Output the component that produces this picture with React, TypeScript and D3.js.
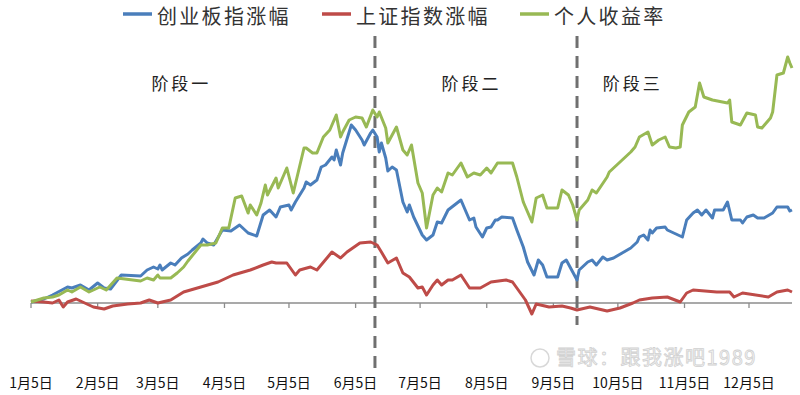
import * as d3 from "d3";

// day of year (Jan 1 = 0) and gain in %
const gemData: [number, number][] = [
  [4, 1], [10, 4], [14, 8], [21, 16], [23, 15], [27, 18], [31, 13], [35, 20], [38, 15], [41, 14],
  [46, 28], [55, 27], [58, 33], [61, 36], [63, 34], [64, 38], [65, 33], [69, 40], [71, 38], [74, 45],
  [77, 49], [79, 53], [83, 60], [84, 64], [86, 60], [89, 58], [93, 73], [97, 72], [101, 78], [105, 70],
  [109, 67], [112, 88], [115, 93], [118, 86], [120, 96], [124, 98], [125, 93], [127, 101], [131, 115],
  [132, 121], [134, 118], [137, 123], [139, 136], [141, 138], [144, 146], [145, 143], [146, 153],
  [148, 138], [149, 150], [153, 178], [155, 173], [158, 163], [159, 158], [162, 170], [163, 173],
  [165, 166], [166, 151], [167, 160], [169, 145], [170, 132], [172, 136], [174, 133], [177, 101],
  [179, 91], [180, 98], [182, 86], [186, 68], [188, 63], [191, 68], [193, 81], [195, 80], [198, 93],
  [204, 103], [208, 83], [210, 85], [211, 76], [214, 66], [216, 75], [218, 76], [220, 83], [221, 83],
  [223, 86], [228, 85], [230, 73], [233, 56], [235, 41], [238, 28], [240, 43], [242, 38], [244, 26],
  [249, 26], [251, 40], [253, 43], [256, 31], [258, 23], [259, 33], [263, 41], [265, 43], [267, 38],
  [270, 46], [272, 43], [275, 45], [279, 50], [283, 55], [286, 61], [287, 66], [289, 68], [291, 63],
  [292, 73], [293, 70], [295, 75], [299, 76], [300, 73], [305, 68], [307, 66], [309, 83], [312, 90],
  [314, 93], [316, 88], [318, 93], [321, 85], [322, 93], [326, 93], [328, 101], [330, 83], [334, 83],
  [335, 80], [337, 86], [340, 88], [342, 85], [345, 85], [349, 90], [351, 96], [356, 96], [357, 92],
  [358, 93],
];

const shData: [number, number][] = [
  [4, 2], [10, 1], [14, 0], [17, 3], [19, -4], [21, 1], [25, 4], [28, 1], [33, -4], [38, -6],
  [42, -3], [49, -1], [55, 0], [59, 3], [63, 0], [69, 3], [75, 11], [83, 16], [91, 21], [98, 28],
  [106, 33], [112, 38], [116, 41], [118, 40], [123, 40], [127, 28], [129, 33], [134, 36], [137, 33],
  [144, 51], [148, 45], [151, 51], [157, 60], [162, 61], [165, 58], [167, 51], [170, 40], [174, 45],
  [177, 30], [180, 26], [184, 15], [186, 16], [188, 8], [191, 18], [193, 23], [195, 18], [198, 23],
  [200, 23], [204, 28], [208, 15], [213, 15], [218, 21], [225, 23], [228, 21], [230, 15], [234, 3],
  [237, -11], [239, -1], [245, -4], [251, -3], [255, -5], [258, -7], [264, -4], [272, -8], [278, -5],
  [284, 0], [287, 3], [293, 5], [300, 6], [306, 1], [309, 10], [312, 13], [323, 11], [329, 11],
  [331, 6], [335, 10], [347, 6], [351, 11], [356, 13], [358, 11],
];

const personalData: [number, number][] = [
  [4, 1], [10, 5], [14, 6], [17, 8], [21, 13], [23, 11], [27, 16], [31, 11], [36, 16], [39, 13],
  [44, 25], [55, 22], [58, 25], [61, 23], [63, 28], [64, 25], [69, 25], [72, 30], [75, 36], [77, 42],
  [80, 50], [83, 58], [86, 58], [90, 60], [91, 65], [93, 75], [96, 75], [99, 105], [102, 107],
  [105, 90], [106, 98], [109, 88], [111, 100], [113, 118], [114, 108], [118, 125], [119, 115],
  [123, 135], [126, 110], [128, 128], [131, 155], [132, 155], [135, 150], [137, 150], [140, 166],
  [143, 173], [146, 188], [148, 166], [149, 171], [152, 183], [155, 186], [158, 185], [160, 176],
  [163, 193], [165, 186], [166, 191], [169, 175], [170, 160], [174, 176], [177, 153], [179, 148],
  [181, 158], [184, 120], [186, 110], [188, 75], [191, 108], [193, 115], [195, 111], [198, 130],
  [200, 128], [204, 140], [207, 126], [210, 130], [213, 128], [216, 135], [218, 130], [221, 140],
  [224, 140], [228, 140], [230, 126], [233, 101], [237, 81], [239, 105], [242, 108], [244, 95],
  [249, 95], [251, 113], [254, 108], [256, 98], [258, 83], [259, 93], [263, 103], [265, 113],
  [267, 110], [272, 126], [273, 131], [278, 141], [283, 151], [285, 156], [287, 166], [291, 171],
  [293, 158], [296, 163], [299, 166], [301, 156], [304, 155], [306, 156], [307, 178], [310, 191],
  [313, 196], [315, 220], [317, 206], [321, 203], [328, 200], [329, 203], [330, 181], [334, 178],
  [337, 190], [341, 188], [342, 176], [344, 175], [348, 185], [349, 191], [351, 228], [354, 230],
  [356, 246], [357, 240], [358, 235],
];

const seriesNames = ["创业板指涨幅", "上证指数涨幅", "个人收益率"];
const seriesColors = ["#4a7ebb", "#be4b48", "#98b954"];
const tickLabels = ["1月5日", "2月5日", "3月5日", "4月5日", "5月5日", "6月5日", "7月5日", "8月5日", "9月5日", "10月5日", "11月5日", "12月5日"];
const stageNames = ["阶段一", "阶段二", "阶段三"];
const stageSplits = [164, 258]; // day of year of the dashed lines
const stageLabelDays = [60, 195, 270];

const dayToDate = (d: number) => new Date(2015, 0, 1 + d);

export default function App() {
  const width = 800;
  const height = 395;
  const axisY = 303;

  const x = d3
    .scaleTime()
    .domain([new Date(2015, 0, 5), new Date(2015, 11, 5)])
    .range([31, 749]);
  const y = d3.scaleLinear().domain([0, 250]).range([axisY, 53]);

  const line = d3
    .line<[number, number]>()
    .x((d) => x(dayToDate(d[0])))
    .y((d) => y(d[1]));

  const allSeries = [gemData, shData, personalData];
  const font = "'Noto Sans CJK SC', 'Noto Sans', sans-serif";

  const legendX = [123, 322, 520];

  return (
    <svg
      width={width}
      height={height}
      style={{ position: "absolute", left: 0, top: 0, background: "#fff" }}
    >
      {/* legend */}
      {seriesNames.map((name, i) => (
        <g key={name}>
          <line
            x1={legendX[i]}
            x2={legendX[i] + 29}
            y1={14}
            y2={14}
            stroke={seriesColors[i]}
            strokeWidth={3.5}
          />
          <text
            x={legendX[i] + 34}
            y={24}
            fontSize={20}
            letterSpacing={2.3}
            fontFamily={font}
            fill="#333"
          >
            {name}
          </text>
        </g>
      ))}

      {/* watermark */}
      <g opacity={0.8}>
        <circle cx={540} cy={358} r={9} fill="none" stroke="#cfcfcf" strokeWidth={1.5} />
        <text
          x={556}
          y={365}
          fontSize={20}
          letterSpacing={1.5}
          fontFamily={font}
          fill="#f4f4f4"
          stroke="#c6c6c6"
          strokeWidth={0.8}
        >
          雪球：跟我涨吧1989
        </text>
      </g>

      {/* x axis */}
      <line
        x1={x(new Date(2015, 0, 5))}
        x2={x(dayToDate(358))}
        y1={axisY}
        y2={axisY}
        stroke="#8c8c8c"
        strokeWidth={1.3}
      />
      {tickLabels.map((t, i) => {
        const tx = x(new Date(2015, i, 5));
        return (
          <g key={t}>
            <line x1={tx} x2={tx} y1={axisY} y2={axisY + 5} stroke="#8c8c8c" strokeWidth={1.3} />
            <text
              x={tx}
              y={388}
              textAnchor="middle"
              fontSize={14}
              fontFamily={font}
              fill="#111"
            >
              {t}
            </text>
          </g>
        );
      })}

      {/* stage dividers */}
      {stageSplits.map((d, i) => (
        <line
          key={d}
          x1={x(dayToDate(d))}
          x2={x(dayToDate(d))}
          y1={36}
          y2={i === 0 ? 368 : 325}
          stroke="#707070"
          strokeWidth={3}
          strokeDasharray="12 8"
        />
      ))}
      {stageNames.map((s, i) => (
        <text
          key={s}
          x={x(dayToDate(stageLabelDays[i]))}
          y={90}
          fontSize={17}
          letterSpacing={3}
          fontFamily={font}
          fill="#222"
        >
          {s}
        </text>
      ))}

      {/* series */}
      {allSeries.map((data, i) => (
        <path
          key={i}
          d={line(data) ?? ""}
          fill="none"
          stroke={seriesColors[i]}
          strokeWidth={3}
          strokeLinejoin="round"
        />
      ))}
    </svg>
  );
}
